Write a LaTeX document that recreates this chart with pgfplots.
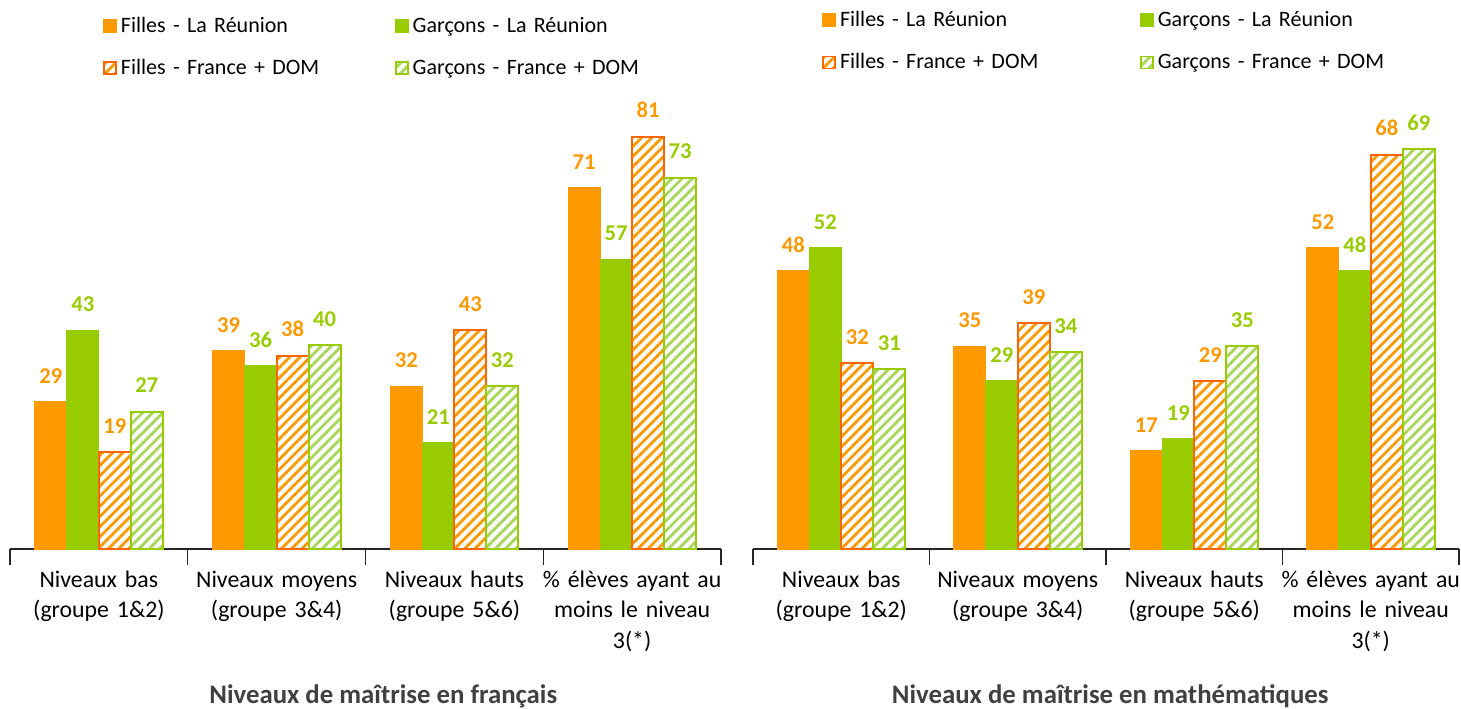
\documentclass[border=0pt]{standalone}
\usepackage{fontspec}
\setmainfont{Carlito}
\usepackage{pgfplots}
\pgfplotsset{compat=1.18}
\usetikzlibrary{patterns.meta}
\definecolor{orF}{HTML}{FF9900}
\definecolor{orB}{HTML}{FF6600}
\definecolor{grG}{HTML}{99CC00}
\definecolor{grL}{HTML}{A8D65A}
\definecolor{tit}{HTML}{404040}
\pgfplotsset{
  mybase/.style={
    scale only axis, height=229pt, ymin=0,
    xmin=-0.5, xmax=3.5, clip=false,
    /pgf/number format/assume math mode=true,
    axis y line=none, axis x line=bottom,
    x axis line style={-, draw=black!85, line width=0.6pt},
    xtick={0,1,2,3}, major tick length=0pt,
    xticklabels={{Niveaux bas\\(groupe 1\&2)},{Niveaux moyens\\(groupe 3\&4)},{Niveaux hauts\\(groupe 5\&6)},{\% élèves ayant au\\moins le niveau\\3(*)}},
    xticklabel style={font=\fontsize{11.9}{15.2}\selectfont, text width=90pt, align=center, anchor=north, yshift=-7.5pt},
    extra x ticks={-0.5,0.5,1.5,2.5,3.5}, extra x tick labels={},
    extra x tick style={major tick length=8pt, tick align=outside, tick style={draw=black!85, line width=0.6pt}},
    ybar=0pt, bar width=16pt,
    nodes near coords,
    nodes near coords style={font=\bfseries\fontsize{11.3}{13}\selectfont, yshift=5.5pt},
    legend columns=2,
    legend style={draw=none, fill=none, anchor=north west, font=\fontsize{11}{13}\selectfont,
      row sep=8pt, column sep=0pt},
    legend image code/.code={\draw[#1, line width=0.9pt] (0pt,-3pt) rectangle (6pt,3pt);},
  },
  sF/.style={fill=orF, draw=orF, every node near coord/.append style={text=orF}},
  sG/.style={fill=grG, draw=grG, every node near coord/.append style={text=grG}},
  pF/.style={draw=orB, line width=1pt, pattern={Lines[angle=45, distance=3.6pt, line width=1.4pt]}, pattern color=orF, every node near coord/.append style={text=orF}},
  pG/.style={draw=grG, line width=1pt, pattern={Lines[angle=45, distance=3.6pt, line width=1.4pt]}, pattern color=grL, every node near coord/.append style={text=grG}},
}
\begin{document}
\begin{tikzpicture}
\useasboundingbox (0,0) rectangle (730.5pt,354pt);
\begin{axis}[mybase, width=355.5pt, ymax=90, at={(5pt,79.5pt)}, anchor=south west,
  legend style={at={(rel axis cs:0.122,1.18)}, nodes={text width=135pt, align=left, inner xsep=2pt}}]
\addplot[sF] coordinates {(0,29) (1,39) (2,32) (3,71)};
\addplot[sG] coordinates {(0,43) (1,36) (2,21) (3,57)};
\addplot[pF] coordinates {(0,19) (1,38) (2,43) (3,81)};
\addplot[pG] coordinates {(0,27) (1,40) (2,32) (3,73)};
\legend{Filles - La Réunion, Garçons - La Réunion, Filles - France + DOM, Garçons - France + DOM}
\node[font=\bfseries\fontsize{13.4}{15}\selectfont, text=tit] at (rel axis cs:0.525,0) [yshift=-73.5pt] {Niveaux de maîtrise en français};
\end{axis}
\begin{axis}[mybase, width=353pt, ymax=79, at={(376.5pt,79.5pt)}, anchor=south west,
  legend style={at={(rel axis cs:0.089,1.193)}, nodes={text width=148pt, align=left, inner xsep=2pt}}]
\addplot[sF] coordinates {(0,48) (1,35) (2,17) (3,52)};
\addplot[sG] coordinates {(0,52) (1,29) (2,19) (3,48)};
\addplot[pF] coordinates {(0,32) (1,39) (2,29) (3,68)};
\addplot[pG] coordinates {(0,31) (1,34) (2,35) (3,69)};
\legend{Filles - La Réunion, Garçons - La Réunion, Filles - France + DOM, Garçons - France + DOM}
\node[font=\bfseries\fontsize{13.4}{15}\selectfont, text=tit] at (rel axis cs:0.506,0) [yshift=-73.5pt] {Niveaux de maîtrise en mathématiques};
\end{axis}
\end{tikzpicture}
\end{document}
